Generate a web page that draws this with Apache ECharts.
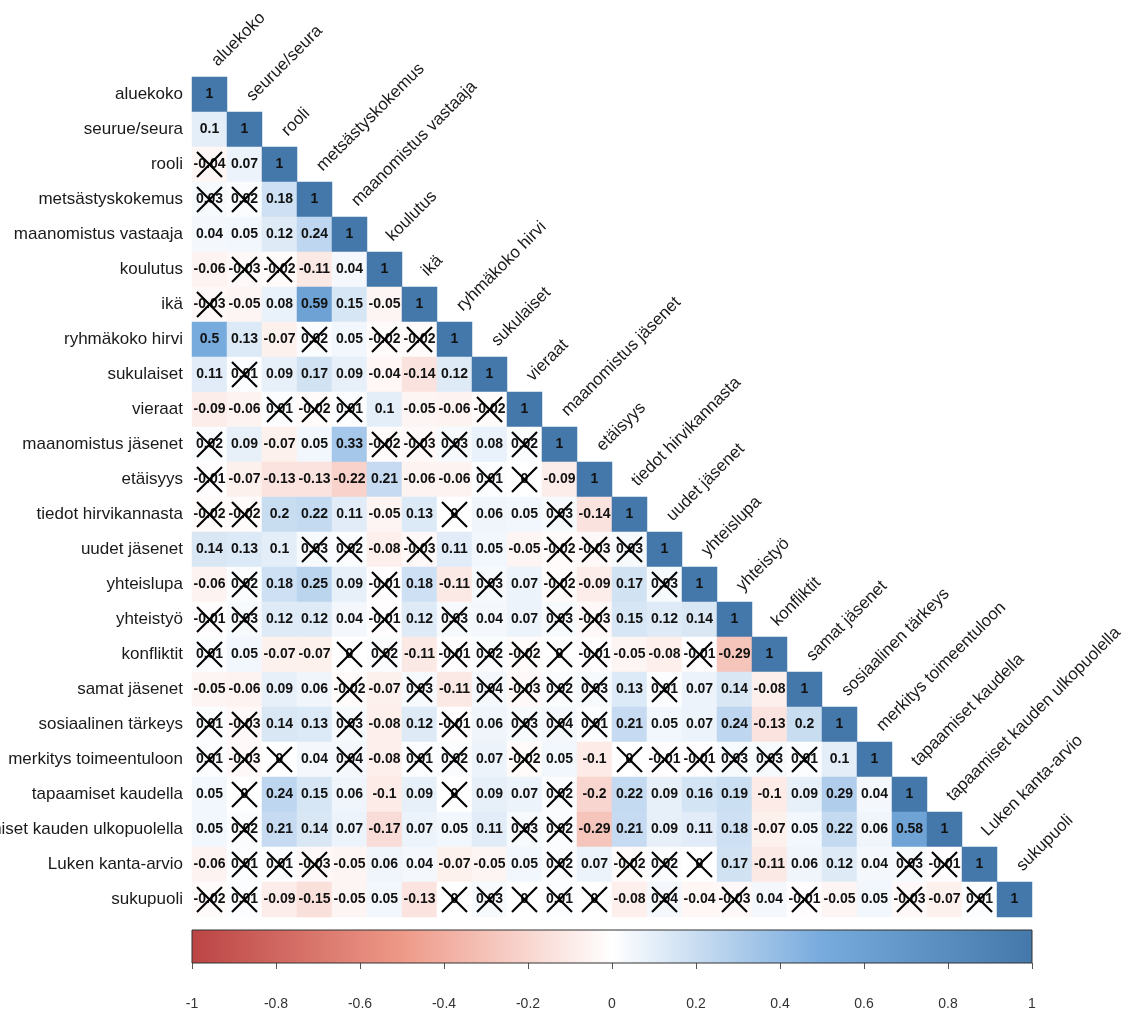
<!DOCTYPE html>
<html><head><meta charset="utf-8">
<script src="https://cdn.jsdelivr.net/npm/echarts@6/dist/echarts.min.js"></script>
<style>html,body{margin:0;padding:0;background:#fff}#c{width:1130px;height:1012px}</style>
</head><body><div id="c"></div>
<script>
const variables = ['aluekoko','seurue/seura','rooli','metsästyskokemus','maanomistus vastaaja','koulutus','ikä','ryhmäkoko hirvi','sukulaiset','vieraat','maanomistus jäsenet','etäisyys','tiedot hirvikannasta','uudet jäsenet','yhteislupa','yhteistyö','konfliktit','samat jäsenet','sosiaalinen tärkeys','merkitys toimeentuloon','tapaamiset kaudella','tapaamiset kauden ulkopuolella','Luken kanta-arvio','sukupuoli'];

// lower-triangle correlation rows (row i has i+1 values, last one is the diagonal)
const corrRows = [
  [1],
  [0.1, 1],
  [-0.04, 0.07, 1],
  [0.03, 0.02, 0.18, 1],
  [0.04, 0.05, 0.12, 0.24, 1],
  [-0.06, -0.03, -0.02, -0.11, 0.04, 1],
  [-0.03, -0.05, 0.08, 0.59, 0.15, -0.05, 1],
  [0.5, 0.13, -0.07, 0.02, 0.05, -0.02, -0.02, 1],
  [0.11, 0.01, 0.09, 0.17, 0.09, -0.04, -0.14, 0.12, 1],
  [-0.09, -0.06, 0.01, -0.02, 0.01, 0.1, -0.05, -0.06, -0.02, 1],
  [0.02, 0.09, -0.07, 0.05, 0.33, -0.02, -0.03, 0.03, 0.08, 0.02, 1],
  [-0.01, -0.07, -0.13, -0.13, -0.22, 0.21, -0.06, -0.06, 0.01, 0, -0.09, 1],
  [-0.02, -0.02, 0.2, 0.22, 0.11, -0.05, 0.13, 0, 0.06, 0.05, 0.03, -0.14, 1],
  [0.14, 0.13, 0.1, 0.03, 0.02, -0.08, -0.03, 0.11, 0.05, -0.05, -0.02, -0.03, 0.03, 1],
  [-0.06, 0.02, 0.18, 0.25, 0.09, -0.01, 0.18, -0.11, 0.03, 0.07, -0.02, -0.09, 0.17, 0.03, 1],
  [-0.01, 0.03, 0.12, 0.12, 0.04, -0.01, 0.12, 0.03, 0.04, 0.07, 0.03, -0.03, 0.15, 0.12, 0.14, 1],
  [0.01, 0.05, -0.07, -0.07, 0, 0.02, -0.11, -0.01, 0.02, -0.02, 0, -0.01, -0.05, -0.08, -0.01, -0.29, 1],
  [-0.05, -0.06, 0.09, 0.06, -0.02, -0.07, 0.03, -0.11, 0.04, -0.03, 0.02, 0.03, 0.13, 0.01, 0.07, 0.14, -0.08, 1],
  [0.01, -0.03, 0.14, 0.13, 0.03, -0.08, 0.12, -0.01, 0.06, 0.03, 0.04, 0.01, 0.21, 0.05, 0.07, 0.24, -0.13, 0.2, 1],
  [0.01, -0.03, 0, 0.04, 0.04, -0.08, 0.01, 0.02, 0.07, -0.02, 0.05, -0.1, 0, -0.01, -0.01, 0.03, 0.03, 0.01, 0.1, 1],
  [0.05, 0, 0.24, 0.15, 0.06, -0.1, 0.09, 0, 0.09, 0.07, 0.02, -0.2, 0.22, 0.09, 0.16, 0.19, -0.1, 0.09, 0.29, 0.04, 1],
  [0.05, 0.02, 0.21, 0.14, 0.07, -0.17, 0.07, 0.05, 0.11, 0.03, 0.02, -0.29, 0.21, 0.09, 0.11, 0.18, -0.07, 0.05, 0.22, 0.06, 0.58, 1],
  [-0.06, 0.01, 0.01, -0.03, -0.05, 0.06, 0.04, -0.07, -0.05, 0.05, 0.02, 0.07, -0.02, 0.02, 0, 0.17, -0.11, 0.06, 0.12, 0.04, 0.03, -0.01, 1],
  [-0.02, 0.01, -0.09, -0.15, -0.05, 0.05, -0.13, 0, 0.03, 0, 0.01, 0, -0.08, 0.04, -0.04, -0.03, 0.04, -0.01, -0.05, 0.05, -0.03, -0.07, 0.01, 1]
];

// column indices of non-significant (crossed) cells in each row
const crossedCols = [
  [], [], [0], [0,1], [], [1,2], [0], [3,5,6], [1], [2,3,4,8],
  [0,5,6,7,9], [0,8,9], [0,1,7,10], [3,4,6,10,11,12], [1,5,8,10,13],
  [0,1,5,7,10,11], [0,4,5,7,8,9,10,11,14], [4,6,8,9,10,11,13],
  [0,1,4,7,9,10,11], [0,1,2,4,6,7,9,12,13,14,15,16,17], [1,7,10], [1,9,10],
  [1,2,3,10,12,13,14,20,21], [0,1,7,8,9,10,11,13,15,17,20,22]
];

const paletteColors = ['#BB4444', '#EE9988', '#FFFFFF', '#77AADD', '#4477AA'];
const scaleTicks = [-1, -0.8, -0.6, -0.4, -0.2, 0, 0.2, 0.4, 0.6, 0.8, 1];

const FONT = '"Liberation Sans", Arial, sans-serif';

const heatData = [];
corrRows.forEach((row, r) => row.forEach((v, c) => heatData.push([c, r, v])));
const crossData = [];
crossedCols.forEach((cols, r) => cols.forEach(c => crossData.push([c, r])));
const diagData = variables.map((v, i) => [i, i]);

const chart = echarts.init(document.getElementById('c'), null, {renderer: 'canvas'});
chart.setOption({
  animation: false,
  backgroundColor: '#fff',
  grid: [
    {left: 192, top: 77, width: 840, height: 840, containLabel: false, outerBoundsMode: 'none'},
    {left: 192, top: 930, width: 840, height: 33, containLabel: false, outerBoundsMode: 'none'}
  ],
  xAxis: [
    {type: 'category', gridIndex: 0, data: variables, show: false},
    {type: 'value', gridIndex: 1, min: -1, max: 1, interval: 0.2,
     axisLine: {show: false}, splitLine: {show: false},
     axisTick: {show: true, length: 6, lineStyle: {color: '#555'}},
     axisLabel: {margin: 34, fontSize: 14, color: '#333', fontFamily: FONT,
       formatter: v => String(scaleTicks.reduce((a, b) => Math.abs(b - v) < Math.abs(a - v) ? b : a))}}
  ],
  yAxis: [
    {type: 'category', gridIndex: 0, data: variables, inverse: true,
     axisLine: {show: false}, axisTick: {show: false}, splitLine: {show: false},
     axisLabel: {margin: 9, fontSize: 17, color: '#1a1a1a', fontFamily: FONT}},
    {type: 'value', gridIndex: 1, min: 0, max: 1, show: false}
  ],
  visualMap: {
    show: false, type: 'continuous', min: -1, max: 1, dimension: 2, seriesIndex: 0,
    inRange: {color: paletteColors}
  },
  series: [
    {
      type: 'heatmap', xAxisIndex: 0, yAxisIndex: 0, data: heatData,
      itemStyle: {borderWidth: 0},
      label: {show: true, formatter: p => String(p.value[2]), color: '#111',
        fontWeight: 'bold', fontSize: 14, fontFamily: FONT},
      emphasis: {disabled: true}, z: 2
    },
    {
      type: 'custom', xAxisIndex: 0, yAxisIndex: 0, data: crossData, z: 10, silent: true,
      renderItem: (params, api) => {
        const p = api.coord([api.value(0), api.value(1)]);
        const h = 12.5;
        return {type: 'group', children: [
          {type: 'line', shape: {x1: p[0] - h, y1: p[1] - h, x2: p[0] + h, y2: p[1] + h}, style: {stroke: '#000', lineWidth: 2.2}},
          {type: 'line', shape: {x1: p[0] - h, y1: p[1] + h, x2: p[0] + h, y2: p[1] - h}, style: {stroke: '#000', lineWidth: 2.2}}
        ]};
      }
    },
    {
      type: 'custom', xAxisIndex: 0, yAxisIndex: 0, data: diagData, z: 10, silent: true,
      renderItem: (params, api) => {
        const p = api.coord([api.value(0), api.value(1)]);
        return {type: 'text', x: p[0] + 11, y: p[1] - 25, rotation: Math.PI / 4,
          style: {text: variables[params.dataIndex], fill: '#1a1a1a', font: '17px ' + FONT,
            textAlign: 'left', textVerticalAlign: 'bottom'}};
      }
    },
    {
      type: 'custom', xAxisIndex: 1, yAxisIndex: 1, data: [[-1, 1]], silent: true,
      renderItem: (params, api) => {
        const a = api.coord([api.value(0), 0]);
        const b = api.coord([api.value(1), 1]);
        const n = paletteColors.length;
        return {type: 'rect',
          shape: {x: a[0], y: b[1], width: b[0] - a[0], height: a[1] - b[1]},
          style: {fill: new echarts.graphic.LinearGradient(0, 0, 1, 0,
            paletteColors.map((c, i) => ({offset: i / (n - 1), color: c}))),
            stroke: '#333', lineWidth: 1}};
      }
    }
  ]
});
</script></body></html>
